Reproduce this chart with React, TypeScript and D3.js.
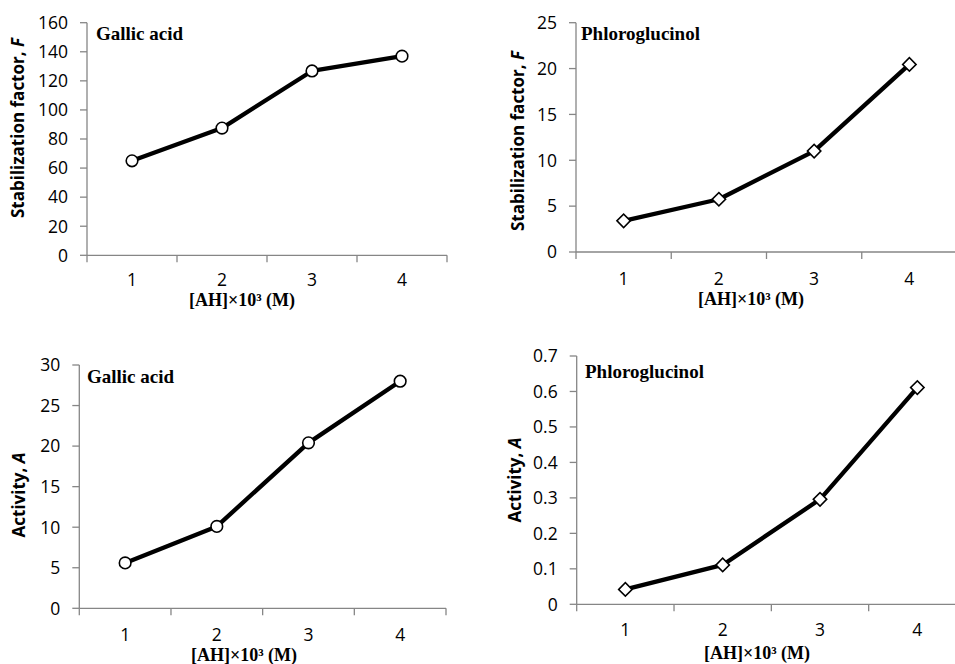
import React from 'react';
import * as d3 from 'd3';

const categories = ['1', '2', '3', '4'];
const gallicF = [65, 87.5, 126.8, 137];
const phloroF = [3.4, 5.75, 11.0, 20.45];
const gallicA = [5.6, 10.1, 20.4, 28.0];
const phloroA = [0.042, 0.111, 0.296, 0.611];

const fTicksGallic = [0, 20, 40, 60, 80, 100, 120, 140, 160];
const fTicksPhloro = [0, 5, 10, 15, 20, 25];
const aTicksGallic = [0, 5, 10, 15, 20, 25, 30];
const aTicksPhloro = [0, 0.1, 0.2, 0.3, 0.4, 0.5, 0.6, 0.7];

const AXIS = '#868686';
const TICK_FONT = '"Open Sans", sans-serif';
const SERIF = '"Liberation Serif", "Times New Roman", serif';

type PanelProps = {
  title: string;
  values: number[];
  ticks: number[];
  marker: 'circle' | 'diamond';
  yLabel: string;
  yLabelItalic: string;
  x0: number; x1: number; yTop: number; yBot: number;
  labelX: number; labelY: number;
  titleX: number; titleY: number;
  xTitleX: number; xTitleY: number;
  tickLabelY: number;
};

function Panel(p: PanelProps) {
  const yScale = d3.scaleLinear()
    .domain([p.ticks[0], p.ticks[p.ticks.length - 1]])
    .range([p.yBot, p.yTop]);
  const xScale = d3.scaleBand()
    .domain(categories)
    .range([p.x0, p.x1]);
  const bw = xScale.bandwidth();
  const pts = p.values.map((v, i) => [xScale(categories[i])! + bw / 2, yScale(v)] as [number, number]);
  const line = d3.line()(pts) || '';
  const diamond = d3.symbol().type(d3.symbolSquare).size(90)() || '';
  const fmt = p.ticks[p.ticks.length - 1] < 1 ? d3.format('.1f') : d3.format('d');
  const bounds = categories.map(c => xScale(c)!).concat([p.x1]);

  return (
    <g>
      {/* y axis */}
      <line x1={p.x0} x2={p.x0} y1={p.yBot} y2={p.yTop} stroke={AXIS} strokeWidth={1.3} />
      {p.ticks.map(t => (
        <g key={t}>
          <line x1={p.x0 - 7} x2={p.x0} y1={yScale(t)} y2={yScale(t)} stroke={AXIS} strokeWidth={1.3} />
          <text x={p.x0 - 19} y={yScale(t)} dy="0.36em" textAnchor="end"
            fontFamily={TICK_FONT} fontSize={17.5} fill="#000">{t === 0 ? '0' : fmt(t)}</text>
        </g>
      ))}
      {/* x axis */}
      <line x1={p.x0} x2={p.x1} y1={p.yBot} y2={p.yBot} stroke={AXIS} strokeWidth={1.3} />
      {bounds.map((b, i) => (
        <line key={i} x1={b} x2={b} y1={p.yBot} y2={p.yBot + 7} stroke={AXIS} strokeWidth={1.3} />
      ))}
      {categories.map(c => (
        <text key={c} x={xScale(c)! + bw / 2} y={p.tickLabelY} textAnchor="middle"
          fontFamily={TICK_FONT} fontSize={17.5} fill="#000">{c}</text>
      ))}
      {/* series */}
      <path d={line} fill="none" stroke="#000" strokeWidth={4.3} strokeLinejoin="round" />
      {pts.map((pt, i) => p.marker === 'circle'
        ? <circle key={i} cx={pt[0]} cy={pt[1]} r={5.8} fill="#fff" stroke="#000" strokeWidth={1.6} />
        : <path key={i} d={diamond} transform={`translate(${pt[0]},${pt[1]}) rotate(45)`}
            fill="#fff" stroke="#000" strokeWidth={1.6} />)}
      {/* labels */}
      <text x={p.titleX} y={p.titleY} fontFamily={SERIF} fontWeight="bold" fontSize={19} fill="#000">{p.title}</text>
      <text transform={`translate(${p.labelX},${p.labelY}) rotate(-90)`} textAnchor="middle"
        fontFamily={TICK_FONT} fontWeight="bold" fontSize={17} fill="#000">
        {p.yLabel}<tspan fontStyle="italic">{p.yLabelItalic}</tspan>
      </text>
      <text x={p.xTitleX} y={p.xTitleY} textAnchor="middle" fontFamily={SERIF} fontWeight="bold"
        fontSize={18} fill="#000">[AH]×10³ (M)</text>
    </g>
  );
}

export default function App() {
  return (
    <svg width={955} height={664} style={{ position: 'absolute', left: 0, top: 0, background: '#fff' }}>
      <Panel title="Gallic acid" values={gallicF} ticks={fTicksGallic} marker="circle"
        yLabel="Stabilization factor, " yLabelItalic="F"
        x0={87} x1={447} yTop={22.7} yBot={255.3} labelX={24} labelY={128}
        titleX={96} titleY={40} xTitleX={242} xTitleY={306} tickLabelY={286} />
      <Panel title="Phloroglucinol" values={phloroF} ticks={fTicksPhloro} marker="diamond"
        yLabel="Stabilization factor, " yLabelItalic="F"
        x0={576} x1={957} yTop={22.7} yBot={252} labelX={524} labelY={141}
        titleX={581} titleY={40} xTitleX={751} xTitleY={305} tickLabelY={285} />
      <Panel title="Gallic acid" values={gallicA} ticks={aTicksGallic} marker="circle"
        yLabel="Activity, " yLabelItalic="A"
        x0={79.3} x1={446} yTop={365} yBot={608.3} labelX={25} labelY={495}
        titleX={87} titleY={383} xTitleX={244} xTitleY={661} tickLabelY={641} />
      <Panel title="Phloroglucinol" values={phloroA} ticks={aTicksPhloro} marker="diamond"
        yLabel="Activity, " yLabelItalic="A"
        x0={576.7} x1={966} yTop={356} yBot={604.3} labelX={521} labelY={480}
        titleX={585} titleY={378} xTitleX={757} xTitleY={659} tickLabelY={636} />
    </svg>
  );
}
